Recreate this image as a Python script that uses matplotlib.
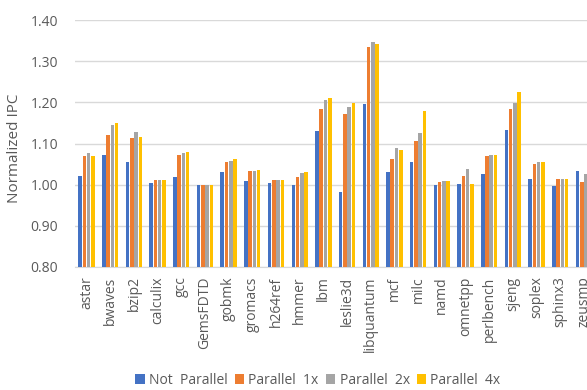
import matplotlib
matplotlib.use("Agg")
import matplotlib.pyplot as plt
from matplotlib.patches import Patch
import numpy as np

plt.rcParams['font.family'] = ['Open Sans', 'DejaVu Sans']

categories = ["astar", "bwaves", "bzip2", "calculix", "gcc", "GemsFDTD", "gobmk",
              "gromacs", "h264ref", "hmmer", "lbm", "leslie3d", "libquantum", "mcf",
              "milc", "namd", "omnetpp", "perlbench", "sjeng", "soplex", "sphinx3", "zeusmp"]

not_parallel = [1.020, 1.073, 1.054, 1.003, 1.018, 1.000, 1.031, 1.008, 1.003, 1.000, 1.131,
                0.982, 1.197, 1.030, 1.056, 1.000, 1.002, 1.026, 1.133, 1.014, 0.997, 1.034]
parallel_1x = [1.070, 1.120, 1.113, 1.010, 1.073, 1.000, 1.054, 1.034, 1.010, 1.018, 1.184,
               1.171, 1.335, 1.062, 1.107, 1.006, 1.022, 1.069, 1.185, 1.049, 1.014, 1.006]
parallel_2x = [1.077, 1.145, 1.128, 1.012, 1.078, 1.000, 1.057, 1.034, 1.010, 1.028, 1.207,
               1.190, 1.347, 1.088, 1.125, 1.009, 1.037, 1.072, 1.198, 1.056, 1.014, 1.026]
parallel_4x = [1.070, 1.150, 1.117, 1.012, 1.080, 1.000, 1.062, 1.036, 1.010, 1.030, 1.210,
               1.200, 1.342, 1.084, 1.179, 1.009, 1.002, 1.072, 1.226, 1.056, 1.014, 1.038]

series_names = ["Not  Parallel", "Parallel  1x", "Parallel  2x", "Parallel  4x"]
colors = ["#4472C4", "#ED7D31", "#A5A5A5", "#FFC000"]
yticks = [0.80, 0.90, 1.00, 1.10, 1.20, 1.30, 1.40]

W, H = 587, 390
fig = plt.figure(figsize=(W / 100, H / 100), dpi=100)
ax = fig.add_axes([74.7 / W, (H - 266.7) / H, 521 / W, 246.3 / H])

x = np.arange(len(categories))
bw = 0.15
step = 0.18
all_series = [not_parallel, parallel_1x, parallel_2x, parallel_4x]
for i, (vals, c) in enumerate(zip(all_series, colors)):
    ax.bar(x + (i - 1.5) * step, np.array(vals) - 0.8, bw, bottom=0.8, color=c, zorder=3)

ax.set_xlim(-0.5, len(categories) - 0.5)
ax.set_ylim(0.80, 1.40)
ax.set_yticks(yticks)
ax.set_yticklabels([f"{v:.2f}" for v in yticks])
ax.set_xticks(x)
ax.set_xticklabels(categories, rotation=90)
ax.tick_params(axis='y', length=0, pad=12, labelsize=10, labelcolor="#595959")
ax.tick_params(axis='x', length=0, pad=7, labelsize=10, labelcolor="#595959")
ax.grid(axis='y', color="#D9D9D9", linewidth=1, zorder=0)
for s in ["top", "right", "left"]:
    ax.spines[s].set_visible(False)
ax.spines["bottom"].set_color("#D9D9D9")

fig.text(15 / W, 1 - 148 / H, "Normalized IPC", rotation=90, ha='center', va='center',
         fontsize=11, color="#595959")

handles = [Patch(facecolor=c, label=n) for c, n in zip(colors, series_names)]
fig.legend(handles=handles, loc='center left', bbox_to_anchor=(128 / W, 1 - 380 / H),
           ncol=4, frameon=False, fontsize=10, handlelength=0.7, handleheight=0.7,
           handletextpad=0.3, columnspacing=0.5, labelcolor="#595959", borderpad=0)

fig.savefig("out.png", dpi=100)
